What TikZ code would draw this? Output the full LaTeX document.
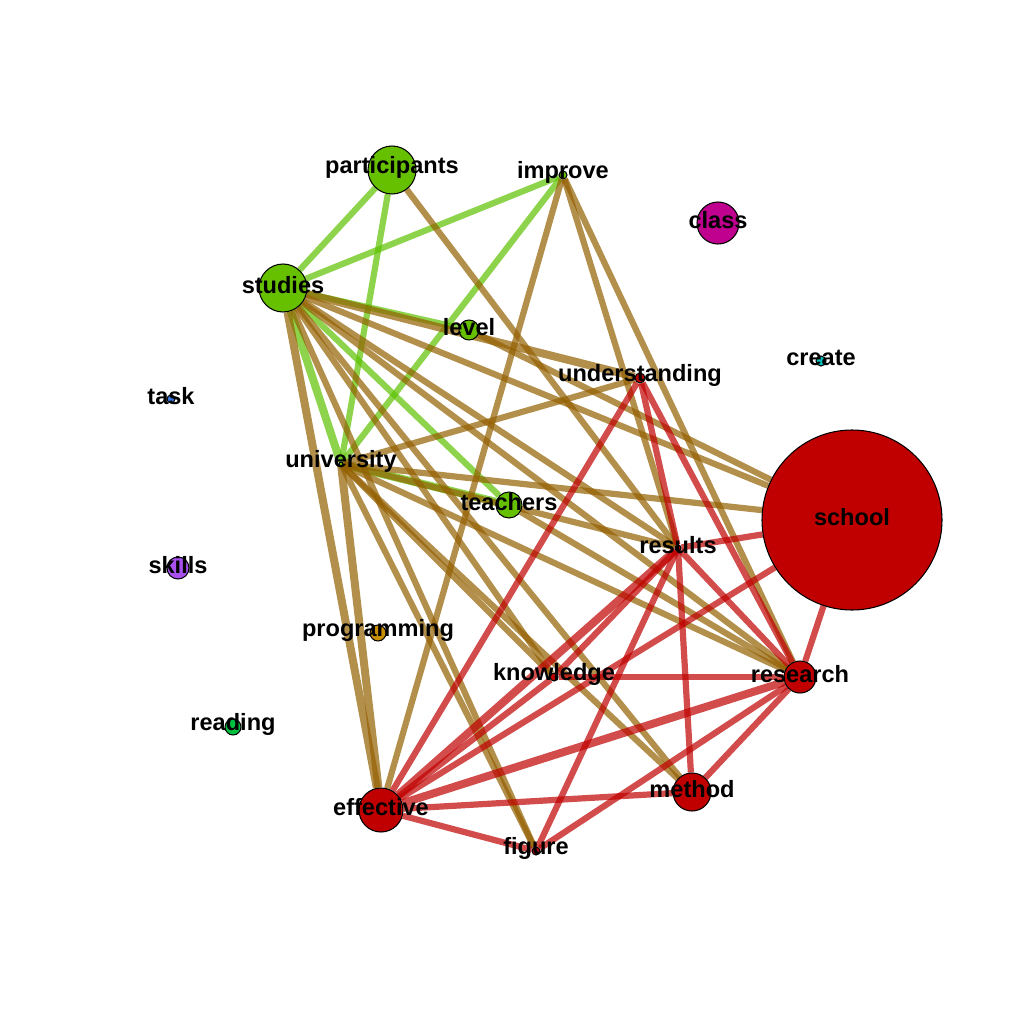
\documentclass[tikz,border=0pt]{standalone}
\usepackage{fontspec}
\setmainfont{Liberation Sans}
\usetikzlibrary{backgrounds}
\definecolor{vert}{HTML}{66C000}
\definecolor{vertlien}{HTML}{5CC200}
\definecolor{rouge}{HTML}{C00000}
\definecolor{brun}{HTML}{936000}
\definecolor{magenta2}{HTML}{C0008F}
\definecolor{cyan2}{HTML}{00C0C0}
\definecolor{bleu}{HTML}{3A78E0}
\definecolor{violet2}{HTML}{A850F0}
\definecolor{orange2}{HTML}{C89000}
\definecolor{vert2}{HTML}{00C040}
\begin{document}
\begin{tikzpicture}[x=0.01cm,y=-0.01cm]
  \tikzstyle{mot}=[circle, draw=black, line width=0.3pt, inner sep=0pt]
  \tikzstyle{lien}=[line width=0.062cm, opacity=0.7]
  \tikzstyle{epais}=[line width=0.08cm]
  \useasboundingbox (0,0) rectangle (1024,1024);
  \foreach \n/\x/\y/\d/\c in {participants/392/170/48/vert, improve/563/175/8/vert,
    studies/283/288/48/vert, level/469/330/20/vert, university/341/464/4/vert,
    teachers/509/505/26/vert, class/718/223/42/magenta2, create/821/361/10/cyan2,
    task/171/399/8/bleu, understanding/640/378/10/rouge, school/852/520/180/rouge,
    results/678/548/6/rouge, skills/178/568/22/violet2, programming/378/633/16/orange2,
    knowledge/554/677/8/rouge, research/800/677/32/rouge, reading/233/727/16/vert2,
    method/692/792/38/rouge, effective/381/810/44/rouge, figure/536/851/8/rouge} {
    \draw (\x,\y) node[mot, fill=\c, minimum size=\d*0.01cm,
      label={[font=\bfseries\fontsize{6.7}{8}\selectfont, yshift=0.03cm]center:\n}] (\n) {};
  }
  \begin{scope}[on background layer]
    % vert - vert
    \foreach \a/\b in {participants/studies, participants/university, studies/improve,
      improve/university, studies/level, studies/teachers} {
      \draw[lien, vertlien] (\a) -- (\b);
    }
    \foreach \a/\b in {studies/university, university/teachers} {
      \draw[lien, epais, vertlien] (\a) -- (\b);
    }
    % vert - rouge
    \foreach \a/\b in {participants/results, improve/effective, improve/results,
      improve/research, studies/school, studies/results, studies/research,
      studies/knowledge, studies/method, studies/figure, level/school,
      university/understanding, university/school, university/results,
      university/research, university/knowledge, university/method,
      university/figure, teachers/research} {
      \draw[lien, brun] (\a) -- (\b);
    }
    \foreach \a/\b in {studies/effective, university/effective, studies/understanding} {
      \draw[lien, epais, brun] (\a) -- (\b);
    }
    % rouge - rouge
    \foreach \a/\b in {understanding/results, understanding/research,
      understanding/effective, results/school, results/method, results/figure,
      results/research, results/knowledge, school/effective, school/research,
      knowledge/research, knowledge/effective, research/method, research/figure,
      method/effective, figure/effective} {
      \draw[lien, rouge] (\a) -- (\b);
    }
    \foreach \a/\b in {effective/research, effective/results} {
      \draw[lien, epais, rouge] (\a) -- (\b);
    }
  \end{scope}
\end{tikzpicture}
\end{document}
